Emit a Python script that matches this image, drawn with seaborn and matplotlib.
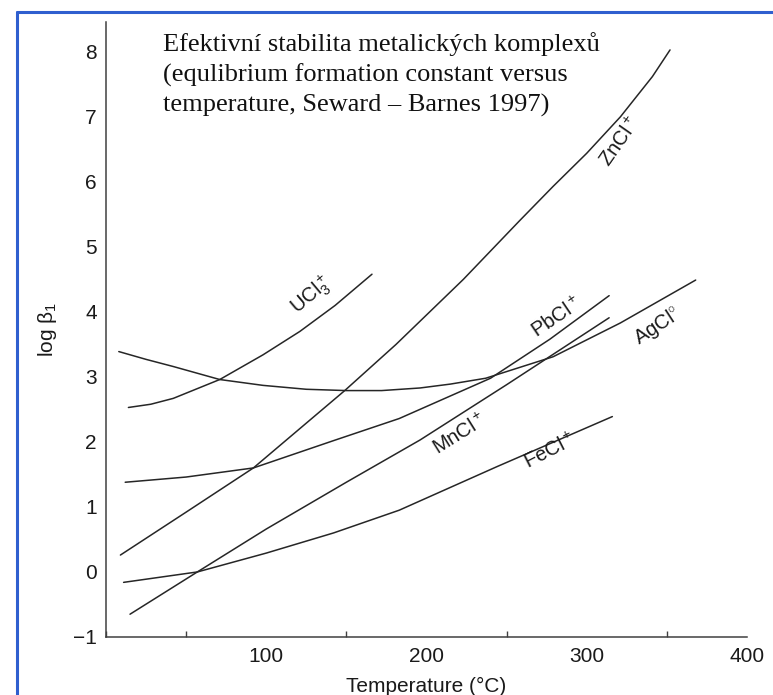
import numpy as np
import pandas as pd
import matplotlib
matplotlib.use("Agg")
import matplotlib.pyplot as plt
from matplotlib.lines import Line2D
from matplotlib.ticker import MultipleLocator
import seaborn as sns

# Style
sns.set_theme(style="white")
plt.rcParams['font.family'] = ['Liberation Sans', 'DejaVu Sans']
plt.rcParams['mathtext.fontset'] = 'custom'
plt.rcParams['mathtext.rm'] = 'Liberation Sans'
plt.rcParams['mathtext.it'] = 'Liberation Sans:italic'

# Data: temperature (°C) vs log beta_1
t_zncl = [9, 50, 92, 149, 181, 223, 258, 279, 300, 321, 341, 352]
b_zncl = [0.26, 0.92, 1.60, 2.79, 3.50, 4.50, 5.40, 5.93, 6.44, 7.00, 7.62, 8.03]

t_ucl3 = [14, 28, 42, 71, 98, 121, 143, 166]
b_ucl3 = [2.53, 2.58, 2.67, 2.96, 3.34, 3.70, 4.10, 4.58]

t_agcl = [8, 25, 42, 71, 98, 125, 150, 172, 196, 215, 237, 279, 321, 368]
b_agcl = [3.39, 3.27, 3.16, 2.96, 2.87, 2.81, 2.79, 2.79, 2.83, 2.89, 2.98, 3.31, 3.83, 4.49]

t_pbcl = [12, 50, 92, 142, 183, 240, 277, 314]
b_pbcl = [1.38, 1.46, 1.60, 2.02, 2.36, 2.98, 3.58, 4.25]

t_mncl = [15, 57, 100, 150, 196, 250, 314]
b_mncl = [-0.65, 0.00, 0.66, 1.38, 2.03, 2.88, 3.91]

t_fecl = [11, 57, 100, 142, 183, 244, 316]
b_fecl = [-0.16, 0.00, 0.29, 0.60, 0.95, 1.62, 2.39]

curves = {
    'ZnCl': (t_zncl, b_zncl),
    'UCl3': (t_ucl3, b_ucl3),
    'AgCl': (t_agcl, b_agcl),
    'PbCl': (t_pbcl, b_pbcl),
    'MnCl': (t_mncl, b_mncl),
    'FeCl': (t_fecl, b_fecl),
}

fig = plt.figure(figsize=(7.73, 6.95), dpi=100)
ax = fig.add_axes([0.1371, 0.0835, 0.8292, 0.8849])

line_col = '#262626'
for name, (t, b) in curves.items():
    sns.lineplot(x=t, y=b, ax=ax, color=line_col, linewidth=1.1, sort=False)

# curve labels (text placement only)
lbl_kw = dict(fontsize=14.5, color='#1a1a1a', ha='center', va='center',
              rotation_mode='anchor')
ax.text(128, 4.25, r'UCl$_3^+$', rotation=40, **lbl_kw)
ax.text(321, 6.62, r'ZnCl$^+$', rotation=55, **lbl_kw)
ax.text(281, 3.91, r'PbCl$^+$', rotation=34, **lbl_kw)
ax.text(344, 3.78, r'AgCl$^{\circ}$', rotation=33, **lbl_kw)
ax.text(221, 2.11, r'MnCl$^+$', rotation=32, **lbl_kw)
ax.text(277, 1.85, r'FeCl$^+$', rotation=27, **lbl_kw)

# axes
ax.set_xlim(0, 400)
ax.set_ylim(-1, 8.46)
sns.despine(ax=ax)
for s in ['left', 'bottom']:
    ax.spines[s].set_color('#404040')
    ax.spines[s].set_linewidth(1.1)

ax.xaxis.set_minor_locator(MultipleLocator(50))
ax.set_xticks([100, 200, 300, 400])
ax.set_yticks(range(-1, 9))
ax.set_yticklabels(['\u22121'] + [str(i) for i in range(0, 9)])
ax.tick_params(axis='both', which='major', direction='in', length=9.5,
               width=1.0, color='#404040', labelsize=15, labelcolor='#1a1a1a')
ax.tick_params(axis='x', which='minor', direction='in', length=4.5,
               width=1.0, color='#404040', bottom=True)
ax.tick_params(axis='y', which='major', pad=6.5)
ax.tick_params(axis='x', which='major', pad=7)

ax.set_xlabel('Temperature (°C)', fontsize=15, color='#1a1a1a', labelpad=8)
ax.set_ylabel(r'log β$_1$', fontsize=15, color='#1a1a1a')
ax.yaxis.set_label_coords(-0.074, 0.50)

# heading text on the slide
fig.text(0.211, 0.954,
         'Efektivní stabilita metalických komplexů\n'
         '(equlibrium formation constant versus\n'
         'temperature, Seward – Barnes 1997)',
         family=['Liberation Serif', 'DejaVu Serif'], fontsize=19,
         color='#111111', ha='left', va='top', linespacing=1.4)

# blue slide frame
fig.add_artist(Line2D([0.022, 0.022], [0, 0.9827], color='#2f5fcf',
                      linewidth=2.2, transform=fig.transFigure))
fig.add_artist(Line2D([0.022, 1.0], [0.9827, 0.9827], color='#2f5fcf',
                      linewidth=2.2, transform=fig.transFigure))

fig.savefig('out.png', dpi=100)
